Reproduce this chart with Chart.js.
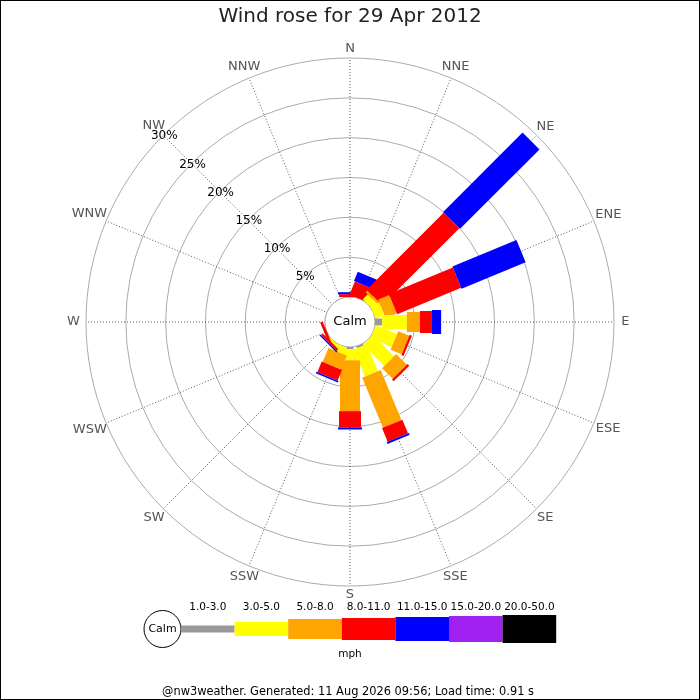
<!DOCTYPE html>
<html>
<head>
<meta charset="utf-8">
<title>Wind rose</title>
<script src="https://cdn.jsdelivr.net/npm/chart.js@4.4.1/dist/chart.umd.min.js"></script>
<style>
body{margin:0;background:#fff;overflow:hidden}
#wrap{width:700px;height:700px}
</style>
</head>
<body>
<div id="wrap"><canvas id="rose" width="700" height="700"></canvas></div>
<script>
// directions, clockwise from north
const dirs=['N','NNE','NE','ENE','E','ESE','SE','SSE','S','SSW','SW','WSW','W','WNW','NW','NNW'];
// speed bands (mph)
const bands=['1.0-3.0','3.0-5.0','5.0-8.0','8.0-11.0','11.0-15.0','15.0-20.0','20.0-50.0'];
const bandColors=['#999999','#ffff00','#ffa500','#ff0000','#0000ff','#a020f0','#000000'];
// % of the day from each direction, one list per speed band
const spd1=[0,0,0,0,0.9,0,0,0.25,0.25,0,0,0,0,0,0,0];
const spd2=[0,0,0.9,1.2,3.1,2.9,3.8,3.65,1.4,0.9,0.3,0,0,0,0,0];
const spd3=[0,0,0.3,1.5,1.65,1.5,1.9,6.8,6.4,1.9,0,0,0,0,0,0];
const spd4=[0.35,1.8,13.7,8.7,1.5,0.3,0.3,1.85,2.05,1.45,0.3,0.35,0,0,0,0];
const spd5=[0.25,1.25,14.1,8.7,1.15,0,0,0.25,0.25,0.2,0.15,0,0,0,0,0];
const spd6=[0,0,0,0,0,0,0,0,0,0,0,0,0,0,0,0];
const spd7=[0,0,0,0,0,0,0,0,0,0,0,0,0,0,0,0];
const ringTicks=[0,5,10,15,20,25,30];
const footer='@nw3weather. Generated: 11 Aug 2026 09:56; Load time: 0.91 s';

// bar thickness per band (px)
const barW=[7,14,20,22,24,26,28];
const FONT='"DejaVu Sans"';

const rosePlugin={
  id:'rose',
  afterDatasetsDraw(chart){
    const ctx=chart.ctx, r=chart.scales.r;
    const cx=r.xCenter, cy=r.yCenter;
    const hole=r.getDistanceFromCenterForValue(0);
    ctx.save();
    // calm circle over the angle lines
    ctx.beginPath();
    ctx.arc(cx,cy,hole,0,Math.PI*2);
    ctx.fillStyle='#fff';
    ctx.fill();
    ctx.strokeStyle='#aaa';
    ctx.lineWidth=1;
    ctx.stroke();
    // stacked bars, one rectangle per band
    ctx.lineCap='butt';
    chart.data.labels.forEach((d,i)=>{
      let cum=0;
      chart.data.datasets.forEach((ds,k)=>{
        const v=ds.data[i];
        if(!v) return;
        const a=r.getPointPosition(i,r.getDistanceFromCenterForValue(cum));
        cum+=v;
        const b=r.getPointPosition(i,r.getDistanceFromCenterForValue(cum));
        ctx.beginPath();
        ctx.moveTo(a.x,a.y);
        ctx.lineTo(b.x,b.y);
        ctx.lineWidth=barW[k];
        ctx.strokeStyle=bandColors[k];
        ctx.stroke();
      });
    });
    ctx.fillStyle='#000';
    ctx.font='13px '+FONT;
    ctx.textAlign='center';
    ctx.textBaseline='middle';
    ctx.fillText('Calm',cx,cy);
    ctx.restore();
  },
  afterDraw(chart){
    const ctx=chart.ctx, r=chart.scales.r;
    ctx.save();
    ctx.textAlign='center';
    ctx.textBaseline='middle';
    // compass labels
    ctx.font='13px '+FONT;
    ctx.fillStyle='#555';
    dirs.forEach((d,i)=>{
      const w=ctx.measureText(d).width;
      const s=Math.abs(Math.sin(r.getIndexAngle(i)));
      const p=r.getPointPosition(i,r.drawingArea+9+0.55*w/2*s);
      ctx.fillText(d,p.x,p.y);
    });
    // ring labels along NW
    ctx.font='12px '+FONT;
    ctx.fillStyle='#000';
    ringTicks.forEach(v=>{
      if(v===0) return;
      const p=r.getPointPosition(14,r.getDistanceFromCenterForValue(v));
      ctx.fillText(v+'%',p.x+1,p.y+1);
    });
    // speed legend
    const lx=181, lw=53.6, ly=629;
    ctx.beginPath();
    ctx.arc(162.5,ly,18.5,0,Math.PI*2);
    ctx.fillStyle='#fff';
    ctx.fill();
    ctx.strokeStyle='#000';
    ctx.lineWidth=1;
    ctx.stroke();
    ctx.font='11px '+FONT;
    ctx.fillStyle='#000';
    ctx.fillText('Calm',162.5,ly);
    ctx.font='10.5px '+FONT;
    bands.forEach((b,k)=>{
      ctx.fillStyle=bandColors[k];
      ctx.fillRect(lx+k*lw,ly-barW[k]/2,lw,barW[k]);
      ctx.fillStyle='#000';
      ctx.fillText(b,lx+k*lw+lw/2,607);
    });
    ctx.fillText('mph',350,654);
    ctx.font='11.4px '+FONT;
    ctx.fillText(footer,348,692);
    // frame
    ctx.strokeStyle='#000';
    ctx.strokeRect(0.5,0.5,699,699);
    ctx.restore();
  }
};

const sets=[spd1,spd2,spd3,spd4,spd5,spd6,spd7].map((d,k)=>({
  label:bands[k],
  data:d,
  showLine:false,
  pointRadius:0,
  borderWidth:0,
  backgroundColor:'transparent'
}));

Chart.defaults.font.family='DejaVu Sans';

new Chart(document.getElementById('rose'),{
  type:'radar',
  data:{labels:dirs,datasets:sets},
  options:{
    responsive:false,
    animation:false,
    events:[],
    layout:{padding:{left:86,right:86,top:0,bottom:114}},
    plugins:{
      legend:{display:false},
      tooltip:{enabled:false},
      title:{
        display:true,
        text:'Wind rose for 29 Apr 2012',
        color:'#222',
        font:{size:20,weight:'normal'},
        padding:{top:5,bottom:29}
      }
    },
    scales:{
      r:{
        min:-3.14, // leaves the calm hole in the middle
        max:30,
        afterBuildTicks(s){ s.ticks=ringTicks.map(v=>({value:v})); },
        ticks:{display:false},
        pointLabels:{display:false},
        grid:{color:'#aaa',lineWidth:1,circular:true},
        angleLines:{color:'#555',lineWidth:1,borderDash:[1,2]}
      }
    }
  },
  plugins:[rosePlugin]
});
</script>
</body>
</html>
